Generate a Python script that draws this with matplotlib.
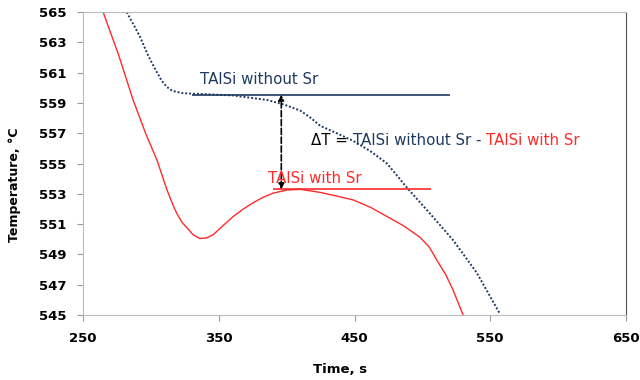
import matplotlib.pyplot as plt

# cooling curve without Sr (dotted navy)
t_nosr = [282, 287, 292, 298, 304.5, 308, 311.8, 315, 318, 323.7, 330, 336, 348, 360.5, 373, 385.5,
          398, 410, 418, 424.6, 437, 449, 462, 474, 488.7, 505.6, 522.6, 540, 557]
T_nosr = [565, 564.2, 563.35, 562.1, 561, 560.45, 560.05, 559.85, 559.75, 559.65, 559.62, 559.6,
          559.55, 559.5, 559.35, 559.2, 558.9, 558.5, 558.0, 557.5, 557.0, 556.5, 555.8, 555.0,
          553.4, 551.7, 549.95, 547.8, 545.1]

# cooling curve with Sr (solid red)
t_sr = [264.7, 276, 286.8, 296, 304.5, 311.8, 316, 319, 323, 326.6, 331, 336, 341, 345.8, 353, 360.5,
        368, 375, 382, 390, 400, 410, 424.6, 437, 449, 462, 474, 486, 498, 505, 510.8, 517,
        522.6, 530]
T_sr = [565, 562.2, 559.2, 557.0, 555.2, 553.25, 552.3, 551.7, 551.1, 550.75, 550.3, 550.05, 550.1,
        550.3, 550.9, 551.5, 552.0, 552.4, 552.75, 553.05, 553.25, 553.3, 553.1, 552.85, 552.6,
        552.1, 551.5, 550.9, 550.15, 549.5, 548.6, 547.7, 546.65, 545]

T_nosr_level = 559.55
T_sr_level = 553.3

fig, ax = plt.subplots(figsize=(6.4, 3.8), dpi=100)
fig.subplots_adjust(left=0.13, right=0.978, top=0.968, bottom=0.171)

navy = '#1f3a60'
red = '#ff2a2a'

ax.plot(t_nosr, T_nosr, color=navy, linestyle=(0, (1, 1)), linewidth=1.4)
ax.plot(t_sr, T_sr, color=red, linewidth=1.0)

ax.hlines(T_nosr_level, 330, 520, color=navy, linewidth=1.2)
ax.hlines(T_sr_level, 390, 506, color=red, linewidth=1.2)

ax.annotate('', xy=(396, T_nosr_level), xytext=(396, T_sr_level),
            arrowprops=dict(arrowstyle='<|-|>', linestyle='--', color='black',
                            linewidth=1.2, mutation_scale=8, shrinkA=0, shrinkB=0))

fs = 10.8
ax.text(336, 560.05, 'TAlSi without Sr', color=navy, fontsize=fs, va='bottom')
ax.text(386, 553.5, 'TAlSi with Sr', color=red, fontsize=fs, va='bottom')
t1 = ax.text(418, 556.55, '\u0394T = ', color='black', fontsize=fs, va='center')
t2 = ax.annotate('TAlSi without Sr - ', xycoords=t1, xy=(1, 0), va='bottom',
                 color=navy, fontsize=fs)
ax.annotate('TAlSi with Sr', xycoords=t2, xy=(1, 0), va='bottom', color=red, fontsize=fs)

ax.set_xlim(250, 650)
ax.set_ylim(545, 565)
ax.set_xticks([250, 350, 450, 550, 650])
ax.set_yticks(range(545, 566, 2))
ax.tick_params(direction='out', length=4, color='#999999', labelsize=9.5, pad=8)
for lab in ax.get_xticklabels() + ax.get_yticklabels():
    lab.set_fontweight('bold')

for side in ['left', 'bottom', 'top']:
    ax.spines[side].set_color('#bbbbbb')
ax.spines['right'].set_color('#555555')

ax.set_xlabel('Time, s', fontsize=9.5, fontweight='bold')
ax.set_ylabel('Temperature, \u00b0C', fontsize=9, fontweight='bold')
ax.xaxis.set_label_coords(0.473, -0.158)
ax.yaxis.set_label_coords(-0.114, 0.43)

fig.savefig('out.png')
